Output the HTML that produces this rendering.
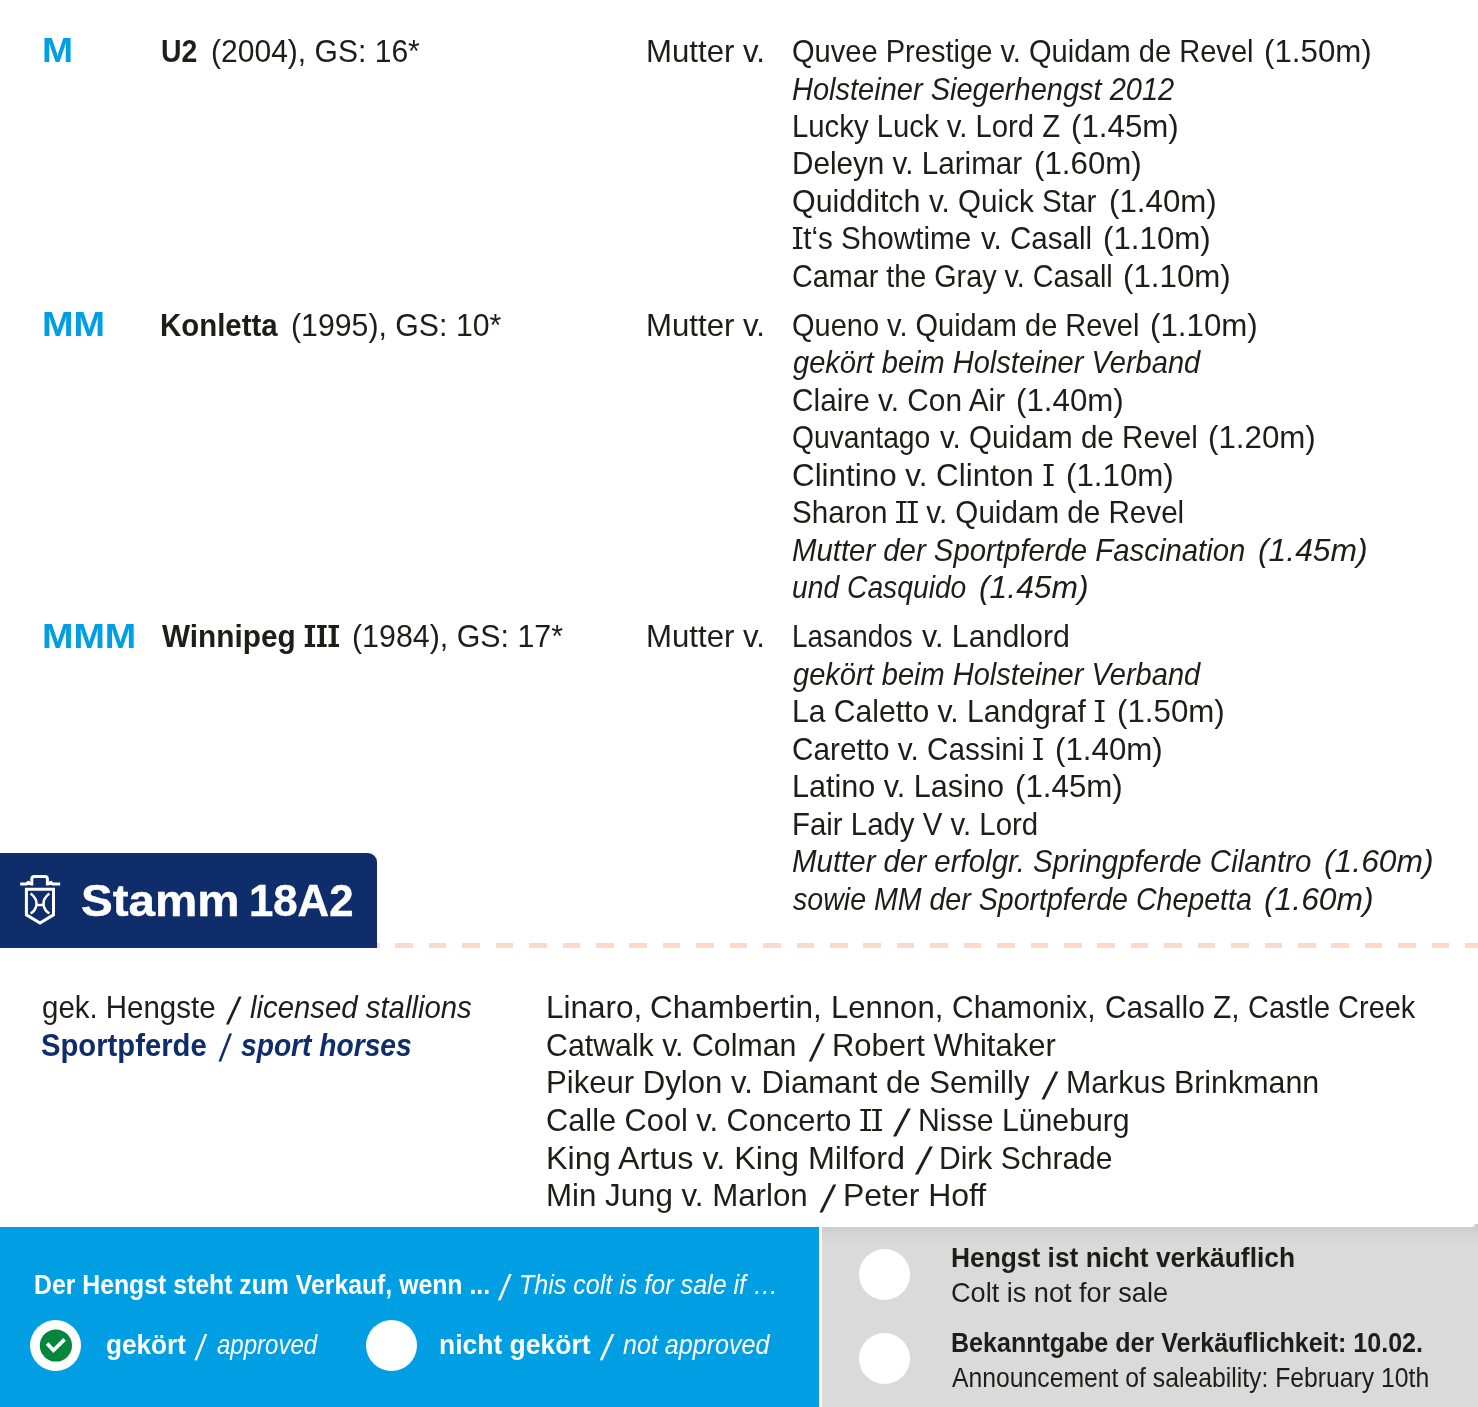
<!DOCTYPE html>
<html lang="de">
<head>
<meta charset="utf-8">
<title>Stamm 18A2</title>
<style>
html,body{margin:0;padding:0;background:#fff}
body{width:1478px;height:1407px;position:relative;overflow:hidden;font-family:"Liberation Sans",sans-serif}
.t{position:absolute;white-space:nowrap;line-height:1;transform-origin:0 0}
.r{font-size:31.3px;font-weight:400;font-style:normal;color:#1d1d1b;}
.i{font-size:31.3px;font-weight:400;font-style:italic;color:#1d1d1b;}
.b{font-size:31.3px;font-weight:700;font-style:normal;color:#1d1d1b;}
.lab{font-size:35px;font-weight:700;font-style:normal;color:#009ee2;}
.nb{font-size:31.3px;font-weight:700;font-style:normal;color:#0e2d6a;}
.sl{font-size:38px;font-weight:400;font-style:normal;color:#1d1d1b;}
.nsl{font-size:38px;font-weight:400;font-style:normal;color:#0e2d6a;}
.nbi{font-size:31.3px;font-weight:700;font-style:italic;color:#0e2d6a;}
.hd{font-size:43.5px;font-weight:700;font-style:normal;color:#ffffff;-webkit-text-stroke:.45px #fff}
.wsl{font-size:36px;font-weight:400;font-style:normal;color:#ffffff;}
.wb{font-size:27.1px;font-weight:700;font-style:normal;color:#ffffff;}
.wi{font-size:27.1px;font-weight:400;font-style:italic;color:#ffffff;}
.kb{font-size:27.1px;font-weight:700;font-style:normal;color:#1d1d1b;}
.kr{font-size:27.1px;font-weight:400;font-style:normal;color:#1d1d1b;}
.sI{display:inline-block;position:relative;width:11.8px;text-align:center}
.sI::before,.sI::after{content:"";position:absolute;left:.7px;right:.7px;height:2.4px;background:currentColor}
.sI::before{top:4.00px}.sI::after{top:23.60px}
.b .sI{width:12.5px}.b .sI::before,.b .sI::after{height:3.3px;left:.9px;right:.9px}.b .sI::after{top:22.70px}
.box{position:absolute}
#stamm{left:0;top:853px;width:377px;height:95px;background:#0e2d6a;border-top-right-radius:9px}
#dash{left:361.5px;top:943px;width:1116.5px;height:5px;background:repeating-linear-gradient(90deg,#fbdacc 0,#fbdacc 17.5px,transparent 17.5px,transparent 33.43px)}
#blue{left:0;top:1227px;width:819px;height:180px;background:#009fe3}
#gray{left:822px;top:1221px;width:656px;height:186px;background:linear-gradient(180deg,#cdcdcd 0,#cdcdcd 6px,#d5d5d5 14px,#dadada 24px,#dadada 100%)}
#cover{left:819px;top:1214px;width:655.5px;height:13px;background:#fff;border-bottom-right-radius:4px}
#cover2{left:1472px;top:1214px;width:6px;height:10px;background:#fff}
.circ{position:absolute;width:51px;height:51px;border-radius:50%;background:#fff}
</style>
</head>
<body>
<main id="pedigree">
<div class="t lab" style="left:41.57px;top:32px;transform:scaleX(1.0656) ;">M</div>
<div class="t lab" style="left:41.53px;top:306px;transform:scaleX(1.0809) ;">MM</div>
<div class="t lab" style="left:41.54px;top:618px;transform:scaleX(1.0779) ;">MMM</div>
<div class="t b" style="left:160.55px;top:36px;transform:scaleX(0.9079) ;">U2</div>
<div class="t r" style="left:210.50px;top:36px;transform:scaleX(0.9602) ;">(2004), GS: 16*</div>
<div class="t b" style="left:159.86px;top:310px;transform:scaleX(0.9398) ;">Konletta</div>
<div class="t r" style="left:290.78px;top:310px;transform:scaleX(0.9672) ;">(1995), GS: 10*</div>
<div class="t b" style="left:161.50px;top:621px;transform:scaleX(0.9516) ;">Winnipeg <span class="sI">I</span><span class="sI">I</span><span class="sI">I</span></div>
<div class="t r" style="left:351.78px;top:621px;transform:scaleX(0.9705) ;">(1984), GS: 17*</div>
<div class="t r" style="left:645.99px;top:36px;transform:scaleX(0.9964) ;">Mutter v.</div>
<div class="t r" style="left:645.99px;top:310px;transform:scaleX(0.9964) ;">Mutter v.</div>
<div class="t r" style="left:645.99px;top:621px;transform:scaleX(0.9964) ;">Mutter v.</div>
<div class="t r" style="left:791.99px;top:36px;transform:scaleX(0.9287) ;">Quvee Prestige v. Quidam de Revel</div>
<div class="t r" style="left:1263.82px;top:36px;transform:scaleX(0.9992) ;">(1.50m)</div>
<div class="t i" style="left:791.83px;top:74px;transform:scaleX(0.9270) ;">Holsteiner Siegerhengst 2012</div>
<div class="t r" style="left:791.95px;top:111px;transform:scaleX(0.9364) ;">Lucky Luck v. Lord Z</div>
<div class="t r" style="left:1071.32px;top:111px;transform:scaleX(0.9992) ;">(1.45m)</div>
<div class="t r" style="left:791.92px;top:148px;transform:scaleX(0.9478) ;">Deleyn v. Larimar</div>
<div class="t r" style="left:1033.82px;top:148px;transform:scaleX(0.9992) ;">(1.60m)</div>
<div class="t r" style="left:791.92px;top:186px;transform:scaleX(0.9716) ;">Quidditch</div>
<div class="t r" style="left:929.49px;top:186px;transform:scaleX(0.9460) ;">v. Quick Star</div>
<div class="t r" style="left:1108.52px;top:186px;transform:scaleX(0.9992) ;">(1.40m)</div>
<div class="t r" style="left:792.45px;top:223px;transform:scaleX(0.9470) ;"><span class="sI">I</span>t&lsquo;s Showtime</div>
<div class="t r" style="left:981.29px;top:223px;transform:scaleX(0.9443) ;">v. Casall</div>
<div class="t r" style="left:1102.72px;top:223px;transform:scaleX(0.9992) ;">(1.10m)</div>
<div class="t r" style="left:791.85px;top:261px;transform:scaleX(0.9188) ;">Camar the Gray v. Casall</div>
<div class="t r" style="left:1122.82px;top:261px;transform:scaleX(0.9992) ;">(1.10m)</div>
<div class="t r" style="left:791.99px;top:310px;transform:scaleX(0.9259) ;">Queno v. Quidam de Revel</div>
<div class="t r" style="left:1149.62px;top:310px;transform:scaleX(0.9992) ;">(1.10m)</div>
<div class="t i" style="left:792.62px;top:347px;transform:scaleX(0.9276) ;">gek&ouml;rt beim Holsteiner Verband</div>
<div class="t r" style="left:791.80px;top:385px;transform:scaleX(0.9521) ;">Claire v. Con Air</div>
<div class="t r" style="left:1016.42px;top:385px;transform:scaleX(0.9992) ;">(1.40m)</div>
<div class="t r" style="left:792.03px;top:422px;transform:scaleX(0.9032) ;">Quvantago</div>
<div class="t r" style="left:939.99px;top:422px;transform:scaleX(0.9457) ;">v. Quidam de Revel</div>
<div class="t r" style="left:1207.82px;top:422px;transform:scaleX(0.9992) ;">(1.20m)</div>
<div class="t r" style="left:791.71px;top:460px;transform:scaleX(1.0022) ;">Clintino v. Clinton <span class="sI">I</span></div>
<div class="t r" style="left:1065.52px;top:460px;transform:scaleX(0.9992) ;">(1.10m)</div>
<div class="t r" style="left:791.67px;top:497px;transform:scaleX(0.9463) ;">Sharon <span class="sI">I</span><span class="sI">I</span> v. Quidam de Revel</div>
<div class="t i" style="left:791.82px;top:535px;transform:scaleX(0.9375) ;">Mutter der Sportpferde Fascination</div>
<div class="t i" style="left:1257.74px;top:535px;transform:scaleX(1.0165) ;">(1.45m)</div>
<div class="t i" style="left:791.64px;top:572px;transform:scaleX(0.9026) ;">und Casquido</div>
<div class="t i" style="left:978.94px;top:572px;transform:scaleX(1.0165) ;">(1.45m)</div>
<div class="t r" style="left:792.07px;top:621px;transform:scaleX(0.8887) ;">Lasandos</div>
<div class="t r" style="left:922.19px;top:621px;transform:scaleX(0.9698) ;">v. Landlord</div>
<div class="t i" style="left:792.62px;top:659px;transform:scaleX(0.9276) ;">gek&ouml;rt beim Holsteiner Verband</div>
<div class="t r" style="left:791.88px;top:696px;transform:scaleX(0.9616) ;">La Caletto v. Landgraf <span class="sI">I</span></div>
<div class="t r" style="left:1116.62px;top:696px;transform:scaleX(0.9992) ;">(1.50m)</div>
<div class="t r" style="left:791.80px;top:734px;transform:scaleX(0.9500) ;">Caretto v. Cassini <span class="sI">I</span></div>
<div class="t r" style="left:1054.82px;top:734px;transform:scaleX(0.9992) ;">(1.40m)</div>
<div class="t r" style="left:791.84px;top:771px;transform:scaleX(0.9771) ;">Latino v. Lasino</div>
<div class="t r" style="left:1014.72px;top:771px;transform:scaleX(0.9992) ;">(1.45m)</div>
<div class="t r" style="left:791.94px;top:809px;transform:scaleX(0.9393) ;">Fair Lady V v. Lord</div>
<div class="t i" style="left:791.82px;top:846px;transform:scaleX(0.9408) ;">Mutter der erfolgr. Springpferde Cilantro</div>
<div class="t i" style="left:1324.04px;top:846px;transform:scaleX(1.0165) ;">(1.60m)</div>
<div class="t i" style="left:792.58px;top:884px;transform:scaleX(0.9126) ;">sowie MM der Sportpferde Chepetta</div>
<div class="t i" style="left:1264.14px;top:884px;transform:scaleX(1.0165) ;">(1.60m)</div>
</main>
<div class="box" id="dash"></div>
<header id="stammhead">
<div class="box" id="stamm"></div>
<svg class="box" style="left:15px;top:870px" width="52" height="60" viewBox="15 870 52 60" fill="none" stroke="#fff">
<path d="M31.8 885.6 V879 Q31.8 876.5 34.3 876.5 H44.9 Q47.4 876.5 47.4 879 V885.6" stroke-width="3"/>
<path d="M20.2 884.1 H26.4 L28.2 882.3 L31 884.1 M60.2 884.1 H52.8 L51 882.3 L48.2 884.1" stroke-width="3" stroke-linejoin="round"/>
<path d="M26.4 889.3 H53.5 V914.8 L40 923.1 L26.4 914.8 Z" stroke-width="3" stroke-linejoin="miter"/>
<path d="M30.6 893.4 Q37.4 898.6 36.4 905.2 Q35.4 910.8 30.6 913.4 M49.4 893.4 Q42.6 898.6 43.6 905.2 Q44.6 910.8 49.4 913.4 M36.4 905 H43.6" stroke-width="2.5"/>
</svg>
<div class="t hd" style="left:81.11px;top:880px;transform:scaleX(1.0929) ;">Stamm</div>
<div class="t hd" style="left:249.14px;top:880px;transform:scaleX(1.0047) ;">18A2</div>
</header>
<section id="family">
<div class="t r" style="left:42.21px;top:992px;transform:scaleX(0.9410) ;">gek. Hengste</div>
<div class="t sl" style="left:232.15px;top:992px;transform:scaleX(0.9844) skewX(-11deg);">/</div>
<div class="t i" style="left:250.48px;top:992px;transform:scaleX(0.9371) ;">licensed stallions</div>
<div class="t nb" style="left:41.29px;top:1030px;transform:scaleX(0.9343) ;">Sportpferde</div>
<div class="t nsl" style="left:222.77px;top:1029px;transform:scaleX(0.9046) skewX(-9deg);">/</div>
<div class="t nbi" style="left:241.18px;top:1030px;transform:scaleX(0.9002) ;">sport horses</div>
<div class="t r" style="left:545.76px;top:992px;transform:scaleX(1.0055) ;">Linaro,</div>
<div class="t r" style="left:650.10px;top:992px;transform:scaleX(1.0083) ;">Chambertin,</div>
<div class="t r" style="left:830.50px;top:992px;transform:scaleX(0.9927) ;">Lennon,</div>
<div class="t r" style="left:952.19px;top:992px;transform:scaleX(0.9598) ;">Chamonix,</div>
<div class="t r" style="left:1104.69px;top:992px;transform:scaleX(0.9560) ;">Casallo Z,</div>
<div class="t r" style="left:1247.94px;top:992px;transform:scaleX(0.9250) ;">Castle Creek</div>
<div class="t r" style="left:545.87px;top:1030px;transform:scaleX(0.9682) ;">Catwalk v. Colman</div>
<div class="t sl" style="left:815.25px;top:1029px;transform:scaleX(1.0174) skewX(-11deg);">/</div>
<div class="t r" style="left:832.01px;top:1030px;transform:scaleX(0.9893) ;">Robert Whitaker</div>
<div class="t r" style="left:545.80px;top:1067px;transform:scaleX(0.9939) ;">Pikeur Dylon v. Diamant de Semilly</div>
<div class="t sl" style="left:1047.93px;top:1067px;transform:scaleX(1.0637) skewX(-11deg);">/</div>
<div class="t r" style="left:1065.56px;top:1067px;transform:scaleX(0.9704) ;">Markus Brinkmann</div>
<div class="t r" style="left:545.85px;top:1105px;transform:scaleX(0.9823) ;">Calle Cool v. Concerto <span class="sI">I</span><span class="sI">I</span></div>
<div class="t sl" style="left:900.18px;top:1104px;transform:scaleX(1.1231) skewX(-11deg);">/</div>
<div class="t r" style="left:917.97px;top:1105px;transform:scaleX(0.9653) ;">Nisse L&uuml;neburg</div>
<div class="t r" style="left:545.69px;top:1143px;transform:scaleX(1.0335) ;">King Artus v. King Milford</div>
<div class="t sl" style="left:922.38px;top:1142px;transform:scaleX(1.1231) skewX(-11deg);">/</div>
<div class="t r" style="left:939.29px;top:1143px;transform:scaleX(0.9591) ;">Dirk Schrade</div>
<div class="t r" style="left:545.78px;top:1180px;transform:scaleX(0.9986) ;">Min Jung v. Marlon</div>
<div class="t sl" style="left:825.99px;top:1180px;transform:scaleX(1.0571) skewX(-11deg);">/</div>
<div class="t r" style="left:843.12px;top:1180px;transform:scaleX(1.0208) ;">Peter Hoff</div>
</section>
<footer id="sale">
<div class="box" id="blue"></div>
<div class="box" id="gray"></div>
<div class="box" id="cover2"></div>
<div class="box" id="cover"></div>
<div class="circ" style="left:30.1px;top:1320px"></div>
<div class="circ" style="left:366.2px;top:1320px"></div>
<div class="circ" style="left:859px;top:1249px"></div>
<div class="circ" style="left:859px;top:1333px"></div>
<svg class="box" style="left:35px;top:1325px" width="42" height="42" viewBox="35 1325 42 42"><circle cx="55.9" cy="1345.5" r="16.1" fill="#06863d"/><path d="M47.1 1343.5 L53.4 1350.3 L64.6 1339.4" fill="none" stroke="#fff" stroke-width="3.6" stroke-linecap="butt" stroke-linejoin="miter"/></svg>
<div class="t wb" style="left:33.68px;top:1271px;transform:scaleX(0.9152) ;">Der Hengst steht zum Verkauf, wenn ...</div>
<div class="t wsl" style="left:503.48px;top:1270px;transform:scaleX(0.9380) skewX(-10deg);">/</div>
<div class="t wi" style="left:518.76px;top:1271px;transform:scaleX(0.9253) ;">This colt is for sale if &hellip;</div>
<div class="t wb" style="left:106.34px;top:1331px;transform:scaleX(0.9658) ;">gek&ouml;rt</div>
<div class="t wsl" style="left:199.06px;top:1330px;transform:scaleX(0.8740) skewX(-10deg);">/</div>
<div class="t wi" style="left:216.79px;top:1331px;transform:scaleX(0.8871) ;">approved</div>
<div class="t wb" style="left:439.36px;top:1331px;transform:scaleX(0.9773) ;">nicht gek&ouml;rt</div>
<div class="t wsl" style="left:604.80px;top:1330px;transform:scaleX(1.0019) skewX(-10deg);">/</div>
<div class="t wi" style="left:622.55px;top:1331px;transform:scaleX(0.9257) ;">not approved</div>
<div class="t kb" style="left:950.67px;top:1244px;transform:scaleX(0.9723) ;">Hengst ist nicht verk&auml;uflich</div>
<div class="t kr" style="left:950.63px;top:1279px;transform:scaleX(1.0007) ;">Colt is not for sale</div>
<div class="t kb" style="left:951.26px;top:1329px;transform:scaleX(0.9246) ;">Bekanntgabe der Verk&auml;uflichkeit: 10.02.</div>
<div class="t kr" style="left:951.83px;top:1364px;transform:scaleX(0.9132) ;">Announcement of saleability: February 10th</div>
</footer>
</body>
</html>
